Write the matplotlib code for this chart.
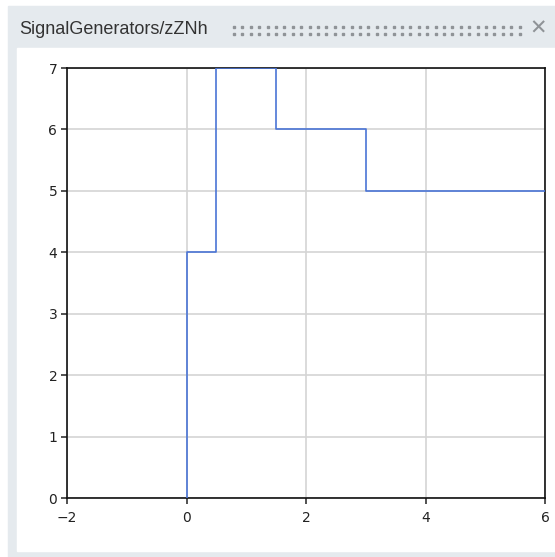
import numpy as np
import matplotlib.pyplot as plt
from matplotlib.patches import Rectangle
from matplotlib.lines import Line2D

# step signal
times = [0, 0, 0.5, 1.5, 3, 6]
values = [0, 4, 7, 6, 5, 5]
x_ticks = [-2, 0, 2, 4, 6]
y_ticks = [0, 1, 2, 3, 4, 5, 6, 7]
title = "SignalGenerators/zZNh"

W, H = 555, 557
fig = plt.figure(figsize=(W / 100, H / 100), dpi=100)
fig.patch.set_facecolor("white")


def px(x0, y0, x1, y1):
    # pixel box (top-left origin) -> figure fraction rect
    return (x0 / W, 1 - y1 / H), (x1 - x0) / W, (y1 - y0) / H


xy, w, h = px(8, 6, 555, 557)
fig.add_artist(Rectangle(xy, w, h, transform=fig.transFigure, color="#e5eaee", zorder=-10))
xy, w, h = px(17, 48, 555, 551)
fig.add_artist(Rectangle(xy, w, h, transform=fig.transFigure, color="white", zorder=-9))

fig.text(19 / W, 1 - 30 / H, title, fontsize=13, family="Liberation Sans",
         color="#333333", va="center", ha="left")
# drag grip: two rows of small dots
grip_x = np.arange(234, 524, 8.4) / W
for yy in (27, 34):
    fig.add_artist(Line2D(grip_x, np.full(len(grip_x), 1 - yy / H), transform=fig.transFigure,
                          color="#8f9397", marker="s", markersize=1.9, linestyle="none"))
fig.text(538 / W, 1 - 29 / H, "\u2715", fontsize=15, color="#8f9397",
         ha="center", va="center", fontweight="bold")

ax = fig.add_axes([67 / W, 1 - 498 / H, (545 - 67) / W, (498 - 68) / H])
ax.plot(times, values, drawstyle="steps-post", color="#4a74d6", lw=1.2, zorder=3)
ax.set_xlim(-2, 6)
ax.set_ylim(0, 7)
ax.set_xticks(x_ticks)
ax.set_yticks(y_ticks)
ax.set_xticklabels([str(t).replace("-", "\u2212") for t in x_ticks])
ax.grid(True, color="#d4d4d4", lw=1.2)
ax.set_axisbelow(True)
for s in ax.spines.values():
    s.set_linewidth(1.2)
    s.set_color("#111111")
ax.tick_params(direction="out", length=4, width=1.1, labelsize=10,
               colors="#222222")
ax.tick_params(axis="x", pad=5)
ax.tick_params(axis="y", pad=3)

fig.savefig("out.png", dpi=100)
